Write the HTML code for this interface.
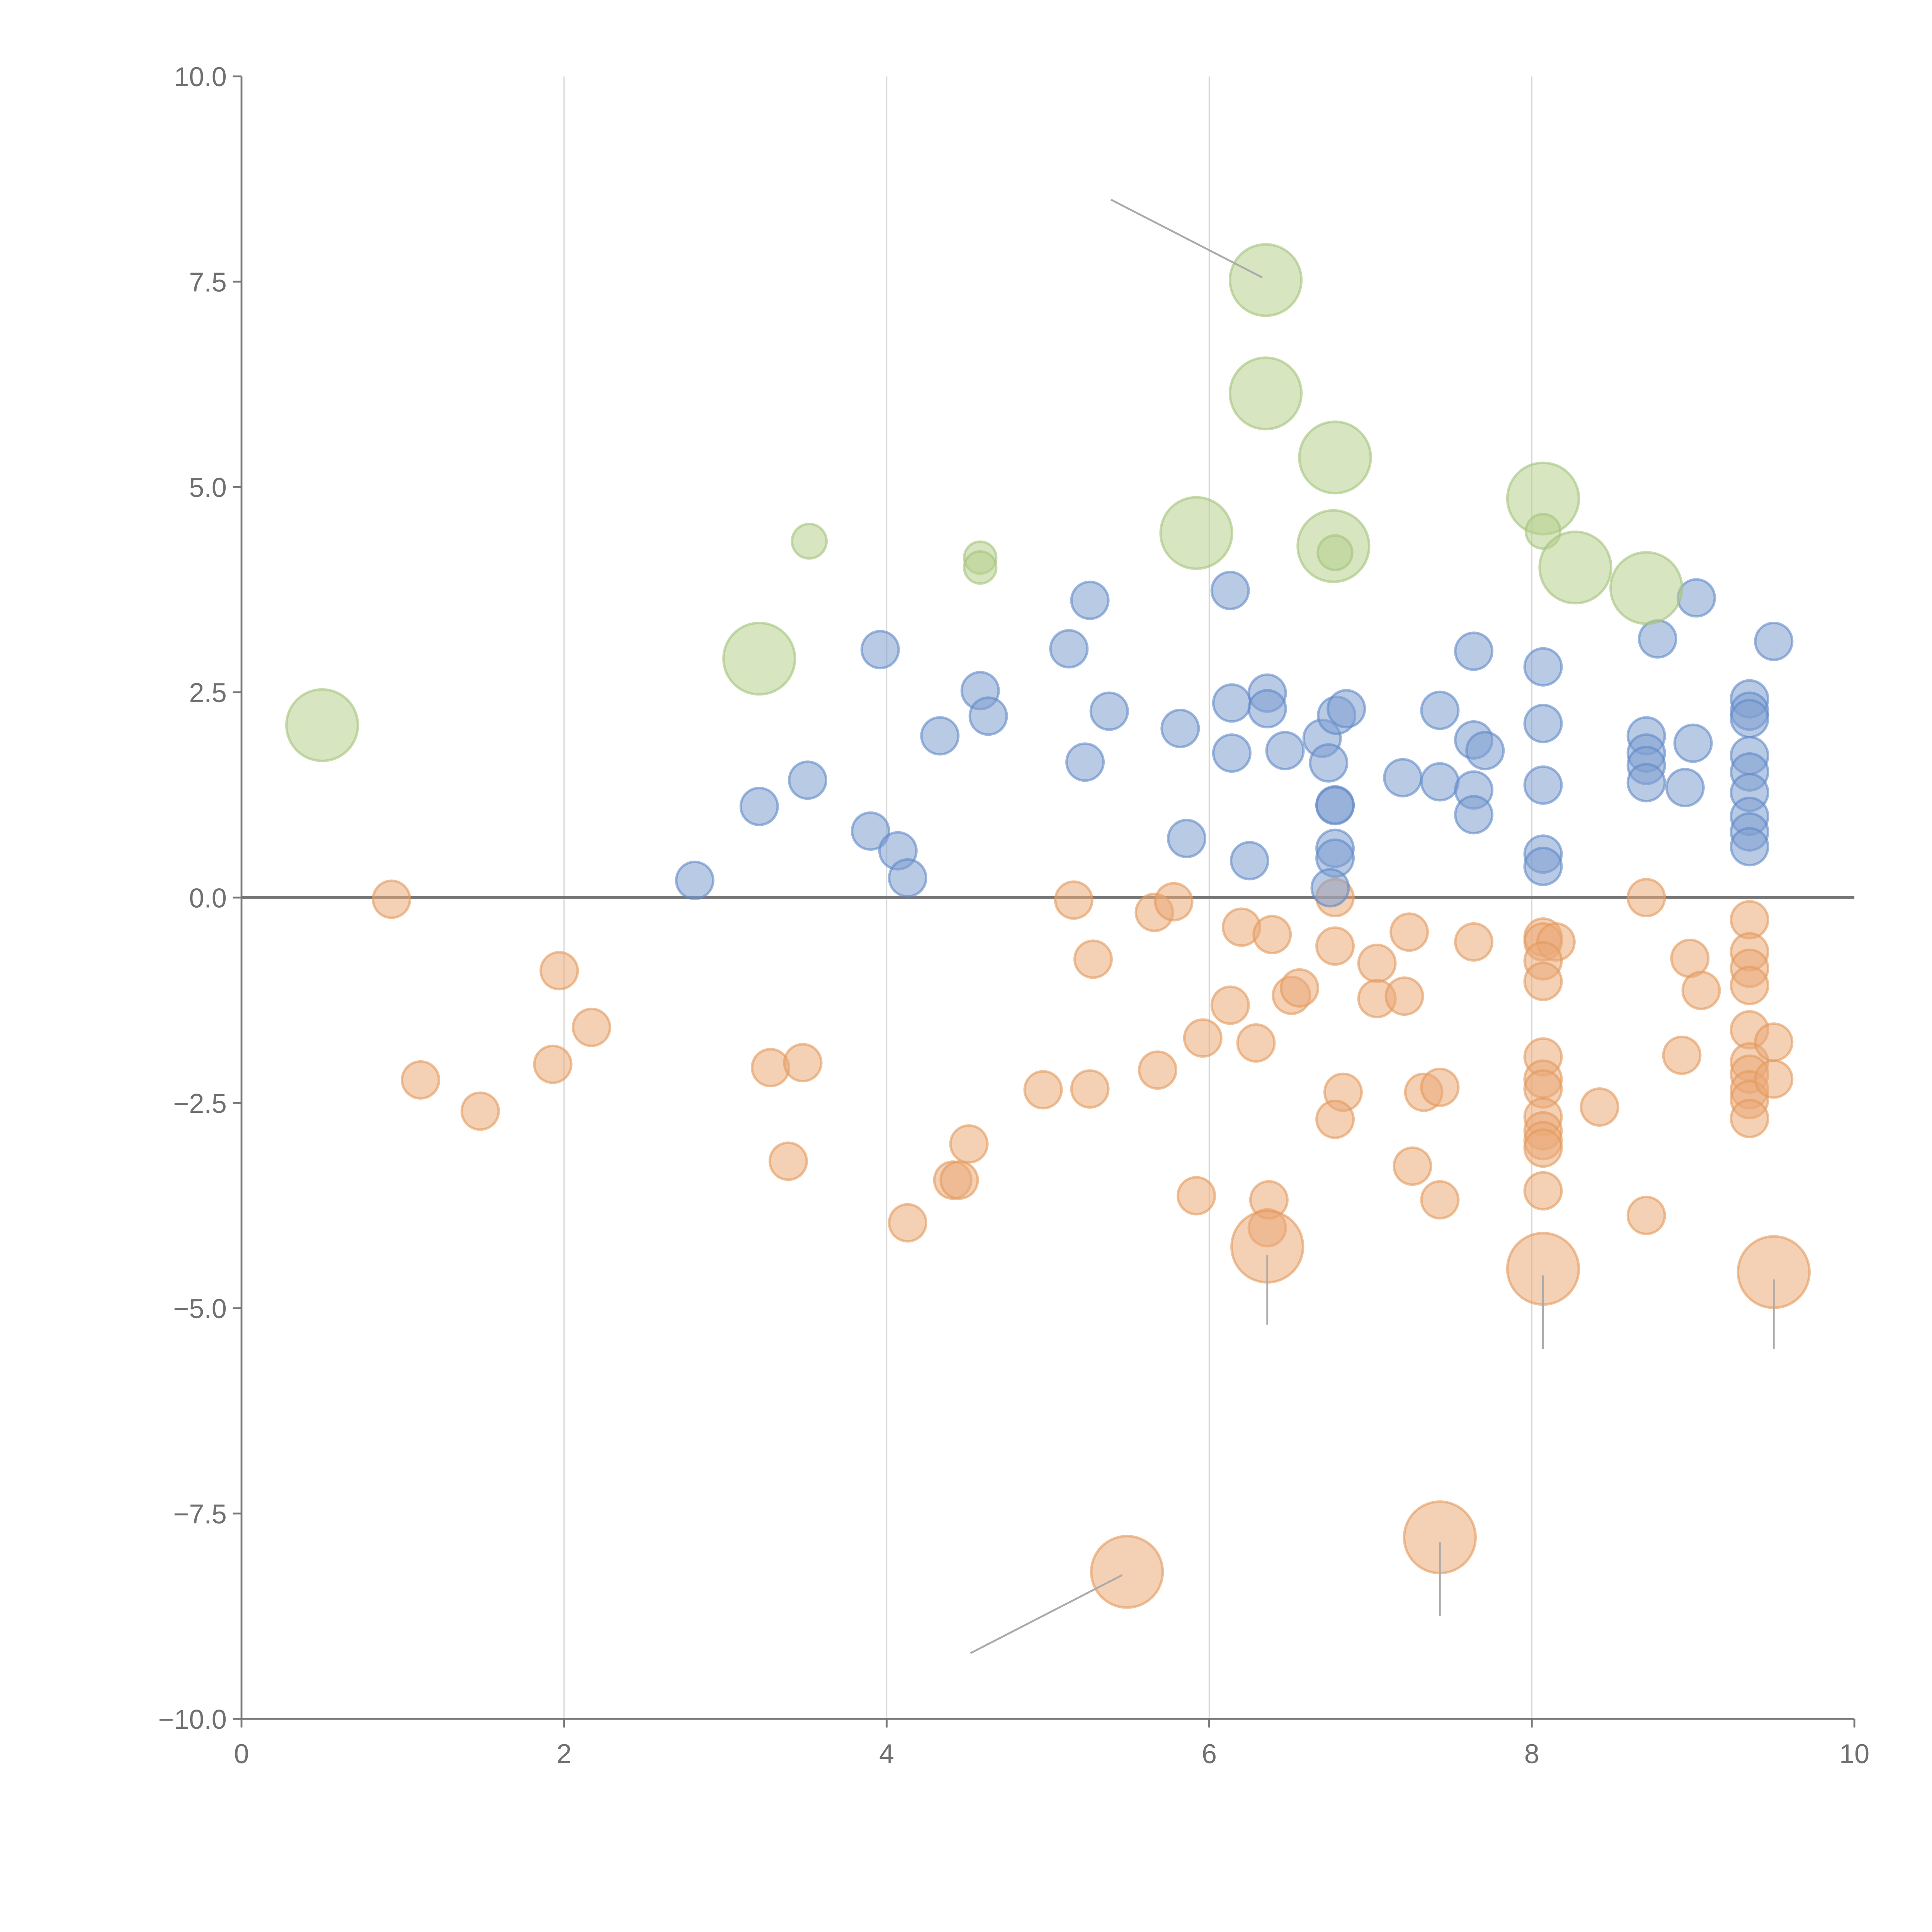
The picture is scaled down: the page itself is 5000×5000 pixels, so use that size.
<!DOCTYPE html>
<html><head><meta charset="utf-8"><style>
html,body{margin:0;padding:0;background:#fff;}
svg{display:block;}
text{font-family:"Liberation Sans",sans-serif;fill:#707070;font-size:22px;}
</style></head><body>
<svg id="chart" width="5000" height="5000" viewBox="0 0 1568 1568" xmlns="http://www.w3.org/2000/svg">
<g id="grid"></g>
<g id="axes"></g>
<g id="marks"></g>
</svg>
<script>
const xTicks=[0,2,4,6,8,10];
const yTicks=[10,7.5,5,2.5,0,-2.5,-5,-7.5,-10];
const yTickLabels=["10.0","7.5","5.0","2.5","0.0","−2.5","−5.0","−7.5","−10.0"];
const greenX=[0.50,3.52,3.21,4.58,4.58,5.92,6.35,6.35,6.78,6.77,6.78,8.07,8.07,8.27,8.71];
const greenY=[2.10,4.34,2.91,4.14,4.02,4.44,7.52,6.14,5.36,4.28,4.20,4.86,4.46,4.02,3.77];
const greenS=[29,14,29,13,13,29,29,29,29,29,14,29,14,29,29];
const blueX=[2.81,3.21,3.51,3.90,3.96,4.07,4.13,4.33,4.58,4.63,5.13,5.23,5.26,5.38,5.82,5.86,6.13,6.14,6.14,6.25,6.36,6.36,6.47,6.70,6.74,6.79,6.85,6.78,6.78,6.78,6.78,6.75,7.20,7.43,7.43,7.64,7.64,7.71,7.64,7.64,8.07,8.07,8.07,8.07,8.07,8.71,8.71,8.71,8.71,8.78,9.00,8.95,9.02,9.50,9.35,9.35,9.35,9.35,9.35,9.35,9.35,9.35,9.35];
const blueY=[0.21,1.11,1.43,0.81,3.02,0.57,0.24,1.97,2.52,2.21,3.03,1.65,3.62,2.27,2.06,0.72,3.74,2.37,1.76,0.45,2.49,2.30,1.79,1.94,1.64,2.22,2.30,1.13,1.12,0.60,0.48,0.12,1.46,2.28,1.41,3.00,1.92,1.79,1.31,1.01,2.81,2.12,1.37,0.53,0.38,1.97,1.76,1.61,1.40,3.15,1.88,1.34,3.65,3.12,2.42,2.27,2.18,1.73,1.53,1.28,0.99,0.80,0.62];
const orangeX=[0.93,1.11,1.48,1.97,1.93,2.17,3.28,3.48,3.39,4.13,4.41,4.45,4.51,4.97,5.16,5.26,5.28,5.66,5.68,5.78,5.92,5.96,6.13,6.20,6.29,6.36,6.37,6.39,6.51,6.56,6.78,6.78,6.83,6.78,7.04,7.04,7.24,7.21,7.26,7.33,7.43,7.43,7.64,8.07,8.07,8.15,8.07,8.07,8.07,8.07,8.07,8.07,8.07,8.07,8.07,8.07,8.42,8.71,8.71,8.93,8.98,9.05,9.35,9.35,9.35,9.35,9.35,9.35,9.35,9.35,9.35,9.35,9.50,9.50,6.36,8.07,9.50,5.49,7.43];
const orangeY=[-0.02,-2.22,-2.60,-0.89,-2.03,-1.58,-2.07,-2.01,-3.21,-3.96,-3.44,-3.44,-3.00,-2.34,-0.03,-2.33,-0.75,-0.18,-2.10,-0.05,-3.63,-1.71,-1.31,-0.36,-1.77,-4.02,-3.68,-0.45,-1.19,-1.10,0.0,-0.59,-2.37,-2.70,-0.80,-1.23,-0.42,-1.20,-3.27,-2.37,-2.31,-3.68,-0.54,-0.48,-0.54,-0.54,-0.77,-1.02,-1.94,-2.21,-2.33,-2.67,-2.84,-2.96,-3.05,-3.57,-2.55,0.0,-3.87,-1.92,-0.74,-1.13,-0.27,-0.66,-0.86,-1.07,-1.61,-2.00,-2.15,-2.34,-2.46,-2.69,-1.76,-2.21,-4.25,-4.52,-4.56,-8.21,-7.79];
const orangeS=[15,15,15,15,15,15,15,15,15,15,15,15,15,15,15,15,15,15,15,15,15,15,15,15,15,15,15,15,15,15,15,15,15,15,15,15,15,15,15,15,15,15,15,15,15,15,15,15,15,15,15,15,15,15,15,15,15,15,15,15,15,15,15,15,15,15,15,15,15,15,15,15,15,15,29,29,29,29,29];
const leaderX1=[5.39,6.36,8.07,9.50,4.52,7.43];
const leaderY1=[8.5,-4.35,-4.6,-4.65,-9.2,-7.85];
const leaderX2=[6.33,6.36,8.07,9.50,5.46,7.43];
const leaderY2=[7.55,-5.2,-5.5,-5.5,-8.25,-8.75];

const X0=196,X1=1505,Y0=1395,Y1=62;
const sx=v=>X0+(v-0)/(10-0)*(X1-X0);
const sy=v=>Y0-(v+10)/20*(Y0-Y1);
const NS="http://www.w3.org/2000/svg";
function mk(tag,parent,attrs){const e=document.createElementNS(NS,tag);for(const k in attrs)e.setAttribute(k,attrs[k]);parent.appendChild(e);return e;}
const grid=document.getElementById('grid'),axes=document.getElementById('axes'),marks=document.getElementById('marks');

xTicks.forEach((t,i)=>{
  if(t>0&&t<10){const g=mk('line',grid,{x1:sx(t),x2:sx(t),y1:Y1,y2:Y0,stroke:'#d8d8d8','stroke-width':1});
  
  }
  const tk=mk('line',axes,{x1:sx(t),x2:sx(t),y1:Y0,y2:Y0+7,stroke:'#777','stroke-width':1.5});
  
  
  const lb=mk('text',axes,{x:sx(t),y:Y0+36,'text-anchor':'middle'});lb.textContent=String(t);
  
  
});
yTicks.forEach((t,i)=>{
  const tk=mk('line',axes,{x1:X0-7,x2:X0,y1:sy(t),y2:sy(t),stroke:'#777','stroke-width':1.5});
  
  
  const lb=mk('text',axes,{x:X0-12,y:sy(t)+8,'text-anchor':'end'});lb.textContent=yTickLabels[i];
  
  
});
const ya=mk('line',axes,{x1:X0,x2:X0,y1:Y1,y2:Y0,stroke:'#777','stroke-width':1.5});


const xa=mk('line',axes,{x1:X0,x2:X1,y1:Y0,y2:Y0,stroke:'#777','stroke-width':1.5});


const zl=mk('line',axes,{x1:X0,x2:X1,y1:sy(0),y2:sy(0),stroke:'#777','stroke-width':2.5});



function series(xs,ys,ss,fill,stroke,name){
  xs.forEach((x,i)=>{
    const c=mk('circle',marks,{cx:sx(x),cy:sy(ys[i]),r:ss[i],fill:fill,'fill-opacity':0.55,stroke:stroke,'stroke-opacity':0.6,'stroke-width':2});
    
    
  });
}
series(orangeX,orangeY,orangeS,'#eba979','#e39a5c','orange-bubble');
series(blueX,blueY,blueX.map(()=>15),'#7f9fd0','#5f88c8','blue-bubble');
series(greenX,greenY,greenS,'#b6cf8e','#a3c37a','green-bubble');
leaderX1.forEach((x,i)=>{
  const l=mk('line',marks,{x1:sx(x),y1:sy(leaderY1[i]),x2:sx(leaderX2[i]),y2:sy(leaderY2[i]),stroke:'#aaa','stroke-width':1.5});
  
  
});
</script>
</body></html>
